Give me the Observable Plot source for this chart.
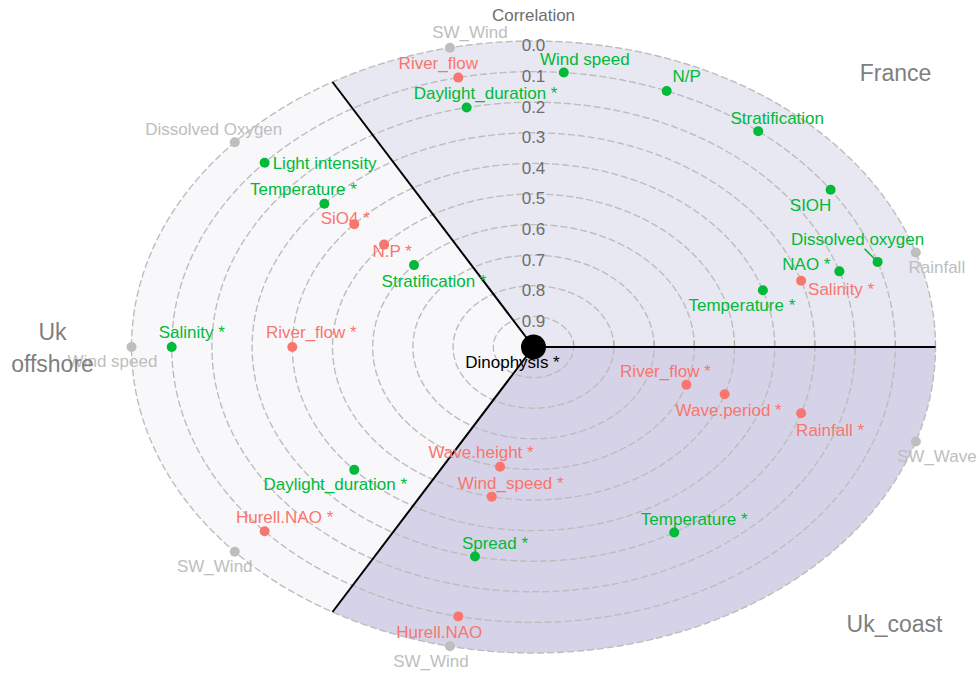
<!DOCTYPE html>
<html>
<head>
<meta charset="utf-8">
<script src="https://cdn.jsdelivr.net/npm/d3@7"></script>
<script src="https://cdn.jsdelivr.net/npm/@observablehq/plot@0.6"></script>
<style>
  body { margin: 0; background: #fff; }
  svg { display: block; }
</style>
</head>
<body>
<div id="chart"></div>
<script>
// ---------------- data ----------------
const sectors = ["France", "Uk offshore", "Uk_coast"];
const sectorStart = [0, 120, 240];           // sector start angle (deg)
const ringTicks = [0.0, 0.1, 0.2, 0.3, 0.4, 0.5, 0.6, 0.7, 0.8, 0.9];
const centerLabel = "Dinophysis *";

const variables = [
  "Wind speed", "N/P", "Stratification", "SIOH", "Dissolved oxygen", "NAO *",
  "Salinity *", "Temperature *", "Rainfall", "River_flow", "Daylight_duration *", "SW_Wind",
  "Dissolved Oxygen", "Light intensity", "Temperature *", "SiO4 *", "N.P *", "Stratification *",
  "Salinity *", "River_flow *", "Wind speed", "Daylight_duration *", "Hurell.NAO *", "SW_Wind",
  "River_flow *", "Wave.period *", "Rainfall *", "SW_Wave", "Temperature *", "Wave.height *",
  "Wind_speed *", "Spread *", "Hurell.NAO", "SW_Wind"
];
const sectorOf = [
  0,0,0,0,0,0,0,0,0,0,0,0,
  1,1,1,1,1,1,1,1,1,1,1,1,
  2,2,2,2,2,2,2,2,2,2
];
const correlation = [
  0.10, 0.10, 0.10, 0.10, 0.10, 0.20, 0.30, 0.40, 0.00, 0.10, 0.20, 0.00,
  0.00, 0.10, 0.30, 0.40, 0.50, 0.60, 0.10, 0.40, 0.00, 0.40, 0.10, 0.00,
  0.60, 0.50, 0.30, 0.00, 0.30, 0.60, 0.50, 0.30, 0.10, 0.00
];
const angleDeg = [
  85.2, 68.4, 51.6, 34.8, 18, 18, 18, 18, 18, 102, 102, 102,
  138, 138, 138, 138, 138, 138, 180, 180, 180, 222, 222, 222,
  342, 342, 342, 342, 300, 258, 258, 258, 258, 258
];
const effect = [
  "pos","pos","pos","pos","pos","pos","neg","pos","none","neg","pos","none",
  "none","pos","pos","neg","neg","pos","pos","neg","none","pos","neg","none",
  "neg","neg","neg","none","pos","neg","neg","pos","neg","none"
];

// ---------------- layout (label nudges in px, like ggrepel output) ----------------
const labelNudge = [
  [21,-13],[20,-14],[19,-13],[-20,16],[-20,-22],[-33,-7],[40,9],[-21,15],[21,15],[-20,-14],[19,-14],[20,-15],
  [-21,-13],[60,1],[-21,-14],[-9,-6],[8,7],[20,16],[20,-14],[19,-14],[-19,15],[-19,15],[20,-14],[-20,15],
  [-21,-13],[4,16],[29,17],[21,15],[20,-13],[-19,-14],[19,-13],[20,-13],[-19,16],[-19,15]
];
const leaderIndex = [4]; // "Dissolved oxygen" has a repel segment

const W = 978, H = 673, mL = 131, mR = 43, mT = 40.5, mB = 20.5;
const kx = (W - mL - mR) / 2, ky = (H - mT - mB) / 2;
const colors = {pos: "#00BA38", neg: "#F8766D", none: "#BEBEBE"};
const rad = d => d * Math.PI / 180;

const points = variables.map((v, i) => {
  const r = 1 - correlation[i], a = rad(angleDeg[i]);
  const x = r * Math.cos(a), y = r * Math.sin(a);
  return {
    name: v, sector: sectors[sectorOf[i]], effect: effect[i],
    x, y,
    lx: x + labelNudge[i][0] / kx,
    ly: y - labelNudge[i][1] / ky
  };
});

// rings
const ringPts = ringTicks.flatMap(t => d3.range(0, 361, 1).map(a => ({
  t, x: (1 - t) * Math.cos(rad(a)), y: (1 - t) * Math.sin(rad(a))
})));
// sector polygons
const sectorFill = ["#e8e8f2", "#f8f8fb", "#d6d3e8"];
const sectorPts = sectors.flatMap((s, k) => [
  {s, x: 0, y: 0},
  ...d3.range(sectorStart[k], sectorStart[k] + 120.5, 1).map(a => ({s, x: Math.cos(rad(a)), y: Math.sin(rad(a))})),
  {s, x: 0, y: 0}
]);

const leaders = leaderIndex.map(i => {
  const p = points[i];
  return {x1: p.x, y1: p.y, x2: p.x - 13 / kx, y2: p.y + 13 / ky};
});

const font = "'Liberation Sans', Arial, sans-serif";
const groupStyle = {fill: "#7f7f7f", fontSize: 23, textAnchor: "middle", lineAnchor: "middle"};

const chart = Plot.plot({
  width: W, height: H,
  marginLeft: mL, marginRight: mR, marginTop: mT, marginBottom: mB,
  x: {domain: [-1, 1], axis: null},
  y: {domain: [-1, 1], axis: null},
  style: {fontFamily: font, background: "#fff", overflow: "visible"},
  marks: [
    ...sectors.map((s, k) => Plot.line(sectorPts.filter(d => d.s === s), {
      x: "x", y: "y", fill: sectorFill[k], stroke: "none", curve: "linear"
    })),
    Plot.line(ringPts, {x: "x", y: "y", z: "t", stroke: "#bdbdbd", strokeWidth: 1.4, strokeDasharray: "6,4"}),
    Plot.ruleX(ringTicks, {x: t => 1 - t, y1: 0, y2: 6 / ky, stroke: "#aaaaaa", strokeWidth: 1}),
    Plot.link(sectorStart, {x1: 0, y1: 0, x2: a => Math.cos(rad(a)), y2: a => Math.sin(rad(a)), stroke: "#000", strokeWidth: 2}),
    Plot.text(ringTicks, {x: 0, y: t => 1 - t, text: t => t.toFixed(1), dy: 5, fill: "#6e6e6e", fontSize: 17}),
    Plot.text(["Correlation"], {frameAnchor: "top", lineAnchor: "middle", dy: -25.5, fill: "#6e6e6e", fontSize: 17}),
    Plot.link(leaders, {x1: "x1", y1: "y1", x2: "x2", y2: "y2", stroke: colors.pos, strokeWidth: 1.5}),
    Plot.text(points, {x: "lx", y: "ly", text: "name", fill: d => colors[d.effect], fontSize: 17}),
    Plot.dot(points, {x: "x", y: "y", r: 5, fill: d => colors[d.effect], stroke: "none"}),
    Plot.dot([centerLabel], {x: 0, y: 0, r: 12.5, fill: "#000"}),
    Plot.text([centerLabel], {x: 0, y: 0, text: d => d, dx: -21, dy: 15.5, fill: "#000", fontSize: 17}),
    Plot.text([sectors[0]], {frameAnchor: "top-right", dx: -40, dy: 32.5, text: d => d, ...groupStyle}),
    Plot.text(["Uk\noffshore"], {frameAnchor: "left", dx: -79, dy: -1.5, text: d => d, lineHeight: 1.4, ...groupStyle}),
    Plot.text([sectors[2]], {frameAnchor: "bottom-right", dx: -41, dy: -28.5, text: d => d, ...groupStyle})
  ]
});
document.getElementById("chart").appendChild(chart);
</script>
</body>
</html>
